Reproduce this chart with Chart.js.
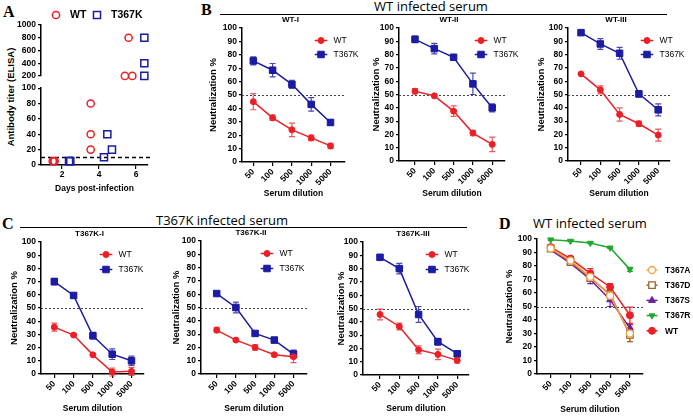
<!DOCTYPE html>
<html>
<head>
<meta charset="utf-8">
<script src="https://cdn.jsdelivr.net/npm/chart.js@4.4.0/dist/chart.umd.min.js"></script>
<style>
  body { margin: 0; width: 693px; height: 416px; position: relative; background: #fff; overflow: hidden;
         font-family: "Liberation Sans", Arial, sans-serif; }
  canvas { position: absolute; }
  .txt { position: absolute; white-space: nowrap; color: #000; }
  .letter { font-family: "Liberation Serif", "Times New Roman", serif; font-weight: bold; font-size: 16px; line-height: 16px; }
  .head { font-family: "Open Sans", "Noto Sans", sans-serif; font-size: 13px; line-height: 14px; transform: translateX(-50%); }
  .rule { position: absolute; height: 0; border-top: 1.3px solid #000; }
</style>
</head>
<body>
<div class="txt letter" style="left:3px;top:4px;">A</div>
<div class="txt letter" style="left:201px;top:2px;">B</div>
<div class="txt letter" style="left:2px;top:216px;">C</div>
<div class="txt letter" style="left:499px;top:216px;">D</div>

<div class="txt head" style="left:431px;top:-1px;">WT infected serum</div>
<div class="rule" style="left:220px;width:447px;top:14px;"></div>
<div class="txt head" style="left:222px;top:213px;">T367K infected serum</div>
<div class="rule" style="left:20px;width:447px;top:227px;"></div>
<div class="txt head" style="left:590px;top:216px;">WT infected serum</div>

<div class="txt" style="left:10px;top:97px;font-weight:bold;font-size:9.5px;transform:translate(-50%,-50%) rotate(-90deg);">Antibody titer (ELISA)</div>

<script>
// ---- data ----
const dilutions = ['50', '100', '500', '1000', '5000'];

// A: antibody titer by day
const daysWT = [1.5, 1.6, 1.55, 3.55, 3.55, 3.55, 5.4, 5.8, 5.6];
const titerWT = [5, 5, 5, 80, 40, 20, 200, 200, 800];
const daysK = [2.38, 2.45, 4.27, 4.45, 4.7, 6.45, 6.45, 6.45];
const titerK = [5, 5, 10, 40, 20, 800, 400, 200];

// B: WT infected serum
const b1WT = [45, 33, 24, 18, 12];
const b1WTErr = [6, 2, 5, 2, 2];
const b1K = [75.5, 68.5, 58, 43, 29.5];
const b1KErr = [3, 5, 3, 5, 2];
const b2WT = [52.5, 49, 37.5, 21, 12.5];
const b2WTErr = [2, 0.5, 4, 2, 5.5];
const b2K = [91.5, 84.5, 78, 58, 40];
const b2KErr = [2.5, 4, 2, 8, 3];
const b3WT = [65.5, 53.5, 35, 28, 19.5];
const b3WTErr = [0.5, 3, 5, 2, 4.5];
const b3K = [96.5, 88, 81, 50.5, 38.5];
const b3KErr = [0.5, 4, 4.5, 2.5, 4.5];

// C: T367K infected serum
const c1WT = [35.5, 29.5, 14.5, 1.5, 2];
const c1WTErr = [3, 0.5, 1, 3, 3];
const c1K = [70, 59.5, 29, 15, 10];
const c1KErr = [2.5, 1, 2.5, 4, 3.5];
const c2WT = [33, 25.5, 20, 14.5, 13];
const c2WTErr = [2, 1, 2, 1, 4.5];
const c2K = [60.5, 50, 30.5, 25.5, 15];
const c2KErr = [1, 4, 1, 2, 3];
const c3WT = [45.5, 36.5, 19, 15.5, 11];
const c3WTErr = [4, 2.5, 3, 4, 2];
const c3K = [88.5, 80, 45.5, 25, 16];
const c3KErr = [0.5, 4, 6, 2.5, 1.5];

// D: WT infected serum vs T367 mutants
const dA = [93, 84, 72, 58, 30];
const dAErr = [1, 1, 2, 3, 6];
const dD = [93, 83, 71, 59, 29];
const dDErr = [1, 1, 2, 3, 5];
const dS = [92, 82, 70, 55, 34];
const dSErr = [1, 1.5, 3, 5, 3];
const dR = [99.5, 98.5, 97, 93.5, 77.5];
const dRErr = [0.5, 0.5, 0.5, 0.5, 1.5];
const dW = [94, 85.5, 74.5, 64.5, 43.5];
const dWErr = [1.5, 1.5, 3.5, 2.5, 6];

const RED = '#ec1f26', BLUE = '#1b1ba3';
const FONT = '"Liberation Sans", Arial, sans-serif';

Chart.defaults.font.family = FONT;
Chart.defaults.font.size = 8.5;
Chart.defaults.font.weight = 'bold';
Chart.defaults.color = '#000';

// error bars, reference line, small title and legend
const extras = {
  id: 'extras',
  beforeDatasetsDraw(chart, args, o) {
    const { ctx, chartArea: a, scales: { x, y } } = chart;
    if (o.ref != null) {
      const py = Math.round(y.getPixelForValue(o.ref)) + 0.5;
      ctx.save();
      ctx.strokeStyle = o.refColor || '#444';
      ctx.lineWidth = o.refWidth || 1;
      ctx.setLineDash(o.refDash || [2, 2]);
      ctx.beginPath();
      ctx.moveTo(a.left, py);
      ctx.lineTo(a.right + (o.refExtra || 0), py);
      ctx.stroke();
      ctx.restore();
    }
    chart.data.datasets.forEach(ds => {
      if (!ds.err) return;
      ctx.save();
      ctx.strokeStyle = ds.errColor || ds.borderColor;
      ctx.lineWidth = 1.2;
      ds.data.forEach((p, i) => {
        const e = ds.err[i];
        if (!e) return;
        const px = x.getPixelForValue(p.x);
        const y1 = y.getPixelForValue(p.y - e), y2 = y.getPixelForValue(p.y + e);
        ctx.beginPath();
        ctx.moveTo(px, y1); ctx.lineTo(px, y2);
        ctx.moveTo(px - 3, y1); ctx.lineTo(px + 3, y1);
        ctx.moveTo(px - 3, y2); ctx.lineTo(px + 3, y2);
        ctx.stroke();
      });
      ctx.restore();
    });
  },
  afterDraw(chart, args, o) {
    const { ctx, chartArea: a } = chart;
    ctx.save();
    ctx.fillStyle = '#000';
    if (o.title) {
      ctx.font = 'bold 8px ' + FONT;
      ctx.textAlign = 'center';
      ctx.textBaseline = 'middle';
      ctx.fillText(o.title, (a.left + a.right) / 2 - 3, a.top - 8.5);
    }
    const L = o.legend;
    if (L) {
      chart.data.datasets.forEach((ds, k) => {
        const cx = a.left + L.dx + k * (L.hgap || 0), cy = a.top + L.dy + k * L.gap;
        if (L.line) {
          ctx.strokeStyle = ds.borderColor;
          ctx.lineWidth = 1.5;
          ctx.beginPath();
          ctx.moveTo(cx - L.line, cy);
          ctx.lineTo(cx + L.line, cy);
          ctx.stroke();
        }
        ctx.fillStyle = ds.backgroundColor;
        ctx.strokeStyle = ds.borderColor;
        ctx.lineWidth = ds.pointBorderWidth || 1;
        Chart.helpers.drawPoint(ctx, {
          pointStyle: ds.pointStyle, radius: ds.pointRadius,
          rotation: ds.pointRotation || 0, borderWidth: ds.pointBorderWidth || 1
        }, cx, cy);
        ctx.fillStyle = '#000';
        ctx.font = L.font;
        ctx.textAlign = 'left';
        ctx.textBaseline = 'middle';
        ctx.fillText(ds.label, cx + L.text, cy + 0.5);
      });
    }
    ctx.restore();
  }
};
Chart.register(extras);

function place(left, top, w, h) {
  const c = document.createElement('canvas');
  c.width = w; c.height = h;
  c.style.left = left + 'px'; c.style.top = top + 'px';
  c.style.width = w + 'px'; c.style.height = h + 'px';
  document.body.appendChild(c);
  return c;
}

function series(label, values, err, color, style) {
  return Object.assign({
    label: label,
    data: values.map((v, i) => ({ x: i + 1, y: v })),
    err: err,
    borderColor: color,
    backgroundColor: color,
    errColor: color,
    borderWidth: 1.5,
    pointStyle: 'circle',
    pointRadius: 3,
    pointBorderWidth: 1,
    clip: false
  }, style || {});
}

const axisGrid = { drawOnChartArea: false, color: '#000', lineWidth: 1.2, tickLength: 4 };
const axisBorder = { color: '#000', width: 1.5 };

// g: axis x, top (y=100), bottom (y=0), right end, first tick x, tick spacing
function neutChart(g, datasets, extra) {
  const yW = g.yW, xH = g.xH, padTop = 16, padRight = g.padRight || 30;
  const w = yW + (g.right - g.ax) + padRight;
  const h = padTop + (g.bottom - g.top) + xH;
  const c = place(g.ax - yW, g.top - padTop, w, h);
  const xmin = 1 - (g.first - g.ax) / g.sp;
  const xmax = 5 + (g.right - g.first - 4 * g.sp) / g.sp;
  return new Chart(c, {
    type: 'line',
    data: { datasets: datasets },
    options: {
      responsive: false, animation: false, events: [],
      layout: { autoPadding: false, padding: { top: padTop, right: padRight, left: 0, bottom: 0 } },
      plugins: { legend: { display: false }, tooltip: { enabled: false }, extras: extra },
      scales: {
        x: {
          type: 'linear', min: xmin, max: xmax,
          afterBuildTicks: s => { s.ticks = dilutions.map((d, i) => ({ value: i + 1 })); },
          ticks: { callback: v => dilutions[v - 1], autoSkip: false, minRotation: 45, maxRotation: 45, padding: 1, font: { size: 8.5, weight: 'bold' } },
          grid: axisGrid, border: axisBorder,
          title: { display: true, text: 'Serum dilution', font: { size: 8.5, weight: 'bold' }, padding: { top: 0, bottom: 0 } },
          afterFit: s => { s.height = xH; }
        },
        y: {
          min: 0, max: 100,
          ticks: { stepSize: 10, autoSkip: false, padding: 2, font: { size: 8.5, weight: 'bold' } },
          grid: Object.assign({}, axisGrid, { tickLength: 3 }), border: axisBorder,
          title: { display: true, text: 'Neutralization %', font: { size: 9.5, weight: 'bold' }, padding: { top: 2, bottom: 0 } },
          afterFit: s => { s.width = yW; }
        }
      }
    }
  });
}

function pair(wt, wtErr, k, kErr) {
  return [
    series('WT', wt, wtErr, RED, { pointRadius: 3, errColor: 'rgba(236,31,38,0.75)' }),
    series('T367K', k, kErr, BLUE, { pointStyle: 'rect', pointRadius: 4.6, errColor: 'rgba(27,27,163,0.8)' })
  ];
}

const legB = { dx: 79, dy: 12.5, gap: 14, line: 6.3, text: 12.5, font: '8.5px ' + FONT };
const legC = { dx: 66, dy: 12.5, gap: 15, line: 6.3, text: 12.5, font: '8.5px ' + FONT };

// B
neutChart({ ax: 242, top: 28, bottom: 162, right: 345, first: 253.3, sp: 19.3, yW: 36, xH: 37 },
  pair(b1WT, b1WTErr, b1K, b1KErr), { ref: 50, title: 'WT-I', legend: legB });
neutChart({ ax: 399, top: 28, bottom: 161, right: 505, first: 415, sp: 19.3, yW: 30, xH: 38 },
  pair(b2WT, b2WTErr, b2K, b2KErr), { ref: 50, title: 'WT-II', legend: Object.assign({}, legB, { dx: 82 }) });
neutChart({ ax: 568, top: 28, bottom: 161, right: 670, first: 581, sp: 19.3, yW: 34, xH: 38, padRight: 23 },
  pair(b3WT, b3WTErr, b3K, b3KErr), { ref: 50, title: 'WT-III', legend: legB });

// C
neutChart({ ax: 41, top: 242, bottom: 374, right: 144, first: 54.3, sp: 19.3, yW: 34, xH: 40 },
  pair(c1WT, c1WTErr, c1K, c1KErr), { ref: 50, title: 'T367K-I', legend: Object.assign({}, legC, { dx: 65 }) });
neutChart({ ax: 201, top: 241, bottom: 374, right: 307, first: 216.7, sp: 19.2, yW: 32, xH: 40 },
  pair(c2WT, c2WTErr, c2K, c2KErr), { ref: 50, title: 'T367K-II', legend: legC });
neutChart({ ax: 363, top: 242, bottom: 375, right: 469, first: 380, sp: 19.3, yW: 29, xH: 39 },
  pair(c3WT, c3WTErr, c3K, c3KErr), { ref: 50, title: 'T367K-III', legend: Object.assign({}, legC, { dx: 69 }) });

// D
neutChart({ ax: 537, top: 239, bottom: 374, right: 643, first: 550.7, sp: 19.8, yW: 35, xH: 41, padRight: 50 }, [
  series('T367A', dA, dAErr, '#f5a146', { backgroundColor: '#fff', pointRadius: 3.5, pointBorderWidth: 1.3 }),
  series('T367D', dD, dDErr, '#a0642e', { backgroundColor: '#fff', pointStyle: 'rect', pointRadius: 4.6, pointBorderWidth: 1.3 }),
  series('T367S', dS, dSErr, '#6c1f9e', { pointStyle: 'triangle', pointRadius: 4 }),
  series('T367R', dR, dRErr, '#21a831', { pointStyle: 'triangle', pointRotation: 180, pointRadius: 3.5 }),
  series('WT', dW, dWErr, RED, { pointRadius: 3.5 })
], { ref: 50, legend: { dx: 115, dy: 31, gap: 15.2, line: 5.5, text: 13, font: 'bold 8.5px ' + FONT } });

// A: broken y axis, two stacked charts sharing the x range
(function () {
  const ax = 41, right = 148, xmin = 2 - 21 / 18.5, xmax = 6 + 12 / 18.5, padRight = 10;
  const wtStyle = { borderColor: RED, backgroundColor: 'rgba(0,0,0,0)', pointStyle: 'circle', pointRadius: 3.6, pointBorderWidth: 1.5, showLine: false, clip: false };
  const kStyle = { borderColor: BLUE, backgroundColor: 'rgba(0,0,0,0)', pointStyle: 'rect', pointRadius: 5, pointBorderWidth: 1.5, showLine: false, clip: false };
  const pts = (d, t, keep) => d.map((v, i) => ({ x: v, y: t[i] })).filter(p => keep(p.y));

  // upper part 200-1000, carries the legend
  const upTop = 25, upBottom = 77, upPad = 25, upPadB = 6;
  const cu = place(0, upTop - upPad, ax + (right - ax) + padRight, upPad + (upBottom - upTop) + upPadB);
  new Chart(cu, {
    type: 'scatter',
    data: { datasets: [
      Object.assign({ label: 'WT', data: pts(daysWT, titerWT, v => v > 100) }, wtStyle),
      Object.assign({ label: 'T367K', data: pts(daysK, titerK, v => v > 100) }, kStyle)
    ] },
    options: {
      responsive: false, animation: false, events: [],
      layout: { autoPadding: false, padding: { top: upPad, right: padRight, left: 0, bottom: upPadB } },
      plugins: { legend: { display: false }, tooltip: { enabled: false },
        extras: { legend: { dx: 15, dy: -10, gap: 0, hgap: 41, text: 14, font: 'bold 10.5px ' + FONT } } },
      scales: {
        x: { type: 'linear', min: xmin, max: xmax, display: false },
        y: { min: 200, max: 1000,
             ticks: { stepSize: 200, autoSkip: false, callback: v => String(v), padding: 2, font: { size: 8.5, weight: 'bold' } },
             grid: Object.assign({}, axisGrid, { tickLength: 3 }), border: axisBorder,
             afterFit: s => { s.width = ax; } }
      }
    }
  });

  // lower part 0-100
  const loTop = 87, loBottom = 165, loPad = 6, xH = 29;
  const cl = place(0, loTop - loPad, ax + (right - ax) + padRight, loPad + (loBottom - loTop) + xH);
  new Chart(cl, {
    type: 'scatter',
    data: { datasets: [
      Object.assign({ label: 'WT', data: pts(daysWT, titerWT, v => v <= 100) }, wtStyle),
      Object.assign({ label: 'T367K', data: pts(daysK, titerK, v => v <= 100) }, kStyle)
    ] },
    options: {
      responsive: false, animation: false, events: [],
      layout: { autoPadding: false, padding: { top: loPad, right: padRight, left: 0, bottom: 0 } },
      plugins: { legend: { display: false }, tooltip: { enabled: false },
        extras: { ref: 10, refColor: '#000', refWidth: 1.5, refDash: [4, 3], refExtra: 3 } },
      scales: {
        x: { type: 'linear', min: xmin, max: xmax,
             afterBuildTicks: s => { s.ticks = [2, 4, 6].map(v => ({ value: v })); },
             ticks: { minRotation: 0, maxRotation: 0, padding: 1, font: { size: 8.5, weight: 'bold' } },
             grid: axisGrid, border: axisBorder,
             title: { display: true, text: 'Days post-infection', font: { size: 8.5, weight: 'bold' }, padding: { top: 0, bottom: 0 } },
             afterFit: s => { s.height = xH; } },
        y: { min: 0, max: 100,
             ticks: { stepSize: 20, autoSkip: false, padding: 2, font: { size: 8.5, weight: 'bold' } },
             grid: Object.assign({}, axisGrid, { tickLength: 3 }), border: axisBorder,
             afterFit: s => { s.width = ax; } }
      }
    }
  });
})();
</script>
</body>
</html>
